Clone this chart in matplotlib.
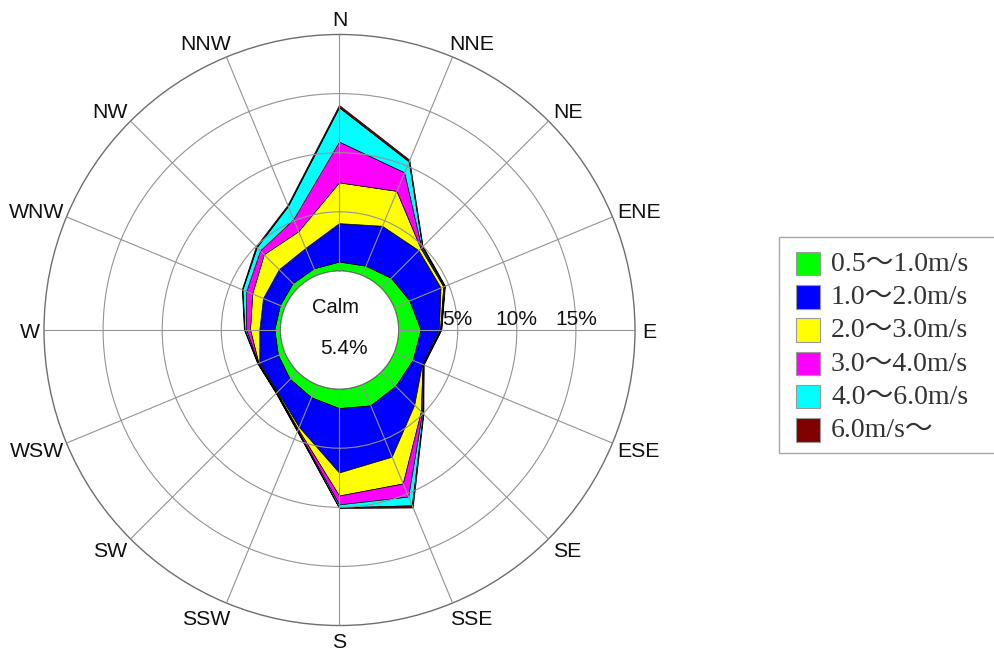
import numpy as np
import matplotlib
matplotlib.use("Agg")
import matplotlib.pyplot as plt
from matplotlib.patches import Polygon, Rectangle
from matplotlib.transforms import offset_copy

# 16 compass sectors, clockwise from north
directions = ["N", "NNE", "NE", "ENE", "E", "ESE", "SE", "SSE",
              "S", "SSW", "SW", "WSW", "W", "WNW", "NW", "NNW"]

# frequency (%) of each wind-speed class per direction
speed_05_10 = [0.75, 0.85, 1.20, 1.45, 1.90, 1.75, 1.75, 1.95,
               1.65, 1.20, 0.90, 0.60, 0.47, 0.42, 0.55, 0.60]
speed_10_20 = [3.25, 3.65, 3.30, 2.85, 1.55, 0.85, 2.25, 4.70,
               5.45, 2.70, 1.50, 1.70, 1.27, 1.54, 1.65, 1.86]
speed_20_30 = [3.45, 3.20, 0.25, 0.25, 0.10, 0.05, 0.80, 2.45,
               1.95, 0.20, 0.07, 0.08, 0.79, 0.99, 1.80, 1.54]
speed_30_40 = [3.45, 1.70, 0.10, 0.05, 0.05, 0.05, 0.15, 1.20,
               0.75, 0.10, 0.05, 0.04, 0.34, 0.55, 0.45, 1.10]
speed_40_60 = [2.90, 1.00, 0.10, 0.05, 0.03, 0.02, 0.10, 0.80,
               0.25, 0.05, 0.03, 0.03, 0.13, 0.35, 0.40, 1.20]
speed_60_up = [0.20, 0.15, 0.05, 0.05, 0.03, 0.03, 0.05, 0.20,
               0.05, 0.05, 0.03, 0.03, 0.05, 0.05, 0.10, 0.10]

speed_labels = ["0.5～1.0m/s", "1.0～2.0m/s", "2.0～3.0m/s",
                "3.0～4.0m/s", "4.0～6.0m/s", "6.0m/s～"]
speed_colors = ["#00ff00", "#0000ff", "#ffff00", "#ff00ff", "#00ffff", "#800000"]

calm = 5.4
ring_ticks = [5, 10, 15]
r_max = 20
r_hole = 5  # radius of the calm disc, in axis units

classes = [speed_05_10, speed_10_20, speed_20_30, speed_30_40, speed_40_60, speed_60_up]
cum = np.cumsum(np.array(classes), axis=0)

fig = plt.figure(figsize=(9.94, 6.53), dpi=100)
W, H = 994, 653
cx, cy, R = 339.5, 330.0, 295.5
ax = fig.add_axes([(cx - R) / W, (H - cy - R) / H, 2 * R / W, 2 * R / H],
                  projection="polar")
ax.set_theta_zero_location("N")
ax.set_theta_direction(-1)
ax.set_ylim(0, r_max)
ax.set_rorigin(-r_hole)

theta = np.deg2rad(np.arange(len(directions)) * 360.0 / len(directions))
ax.set_xticks(theta)
ax.set_xticklabels([])
ax.set_yticks(ring_ticks)
ax.set_yticklabels([])
ax.grid(True, color="#939393", linewidth=0.8)
ax.set_axisbelow(False)
ax.spines["polar"].set_color("#6e6e6e")
ax.spines["polar"].set_linewidth(1.0)
if "inner" in ax.spines:
    ax.spines["inner"].set_color("#6e6e6e")
    ax.spines["inner"].set_linewidth(0.8)

# stacked bands: each band lies between consecutive cumulative totals
th_closed = np.append(theta, theta[0] + 2 * np.pi)
th_dense = np.linspace(0, 2 * np.pi, 181)
for k in range(len(classes)):
    upper = np.append(cum[k], cum[k][0])
    outer = list(zip(th_closed, upper))
    if k == 0:
        inner = list(zip(th_dense[::-1], np.zeros_like(th_dense)))
    else:
        lower = np.append(cum[k - 1], cum[k - 1][0])
        inner = list(zip(th_closed[::-1], lower[::-1]))
    ax.add_patch(Polygon(outer + inner, closed=True, facecolor=speed_colors[k],
                         edgecolor="black", linewidth=0.5, zorder=1))

# overlay axes in pixel units for the compass labels and the legend
lax = fig.add_axes([0, 0, 1, 1])
lax.set_xlim(0, W)
lax.set_ylim(H, 0)
lax.axis("off")

# compass labels: ring of radius 311 px, nudged sideways by part of the text width
sans = ["Liberation Sans", "DejaVu Sans"]
renderer = fig.canvas.get_renderer()
for t, name in zip(theta, directions):
    s, c = np.sin(t), np.cos(t)
    txt = lax.text(0, 0, name, ha="center", va="center", fontsize=15.3,
                   family=sans, color="#111111")
    hw = txt.get_window_extent(renderer).width / 2
    side = np.sign(s) * 0.6 * hw if abs(c) > 0.1 and abs(s) > 0.1 else 0.0
    txt.set_position((cx + 310 * s + side, cy - 311 * c + 2))

# ring labels just above the east axis
lift = offset_copy(ax.transData, fig=fig, x=0, y=10.5, units="dots")
for r in ring_ticks:
    ax.text(np.pi / 2, r, f"{r}%", transform=lift, ha="center", va="center",
            fontsize=15, family=sans, color="#111111", zorder=5)

# calm share in the centre
ax.text(0.5 - 3.5 / (2 * R), 0.5 + 22 / (2 * R), "Calm", transform=ax.transAxes,
        ha="center", va="center", fontsize=14.5, family=sans, color="#111111")
ax.text(0.5 + 4.5 / (2 * R), 0.5 - 19 / (2 * R), f"{calm:.1f}%", transform=ax.transAxes,
        ha="center", va="center", fontsize=15, family=sans, color="#111111")

# legend panel
lax.add_patch(Rectangle((779, 237), 240, 215.5, facecolor="white",
                        edgecolor="#a8a8a8", linewidth=1.0))
serif = ["Liberation Serif", "Noto Sans CJK JP"]
for i, (lab, col) in enumerate(zip(speed_labels, speed_colors)):
    y0 = 251.7 + i * 33.3
    lax.add_patch(Rectangle((796, y0), 23.5, 23.5, facecolor=col,
                            edgecolor="#9a9a9a", linewidth=0.8))
    lax.text(831, y0 + 12.5, lab, ha="left", va="center", fontsize=20,
             family=serif, color="#333333")

fig.savefig("out.png", dpi=100)
